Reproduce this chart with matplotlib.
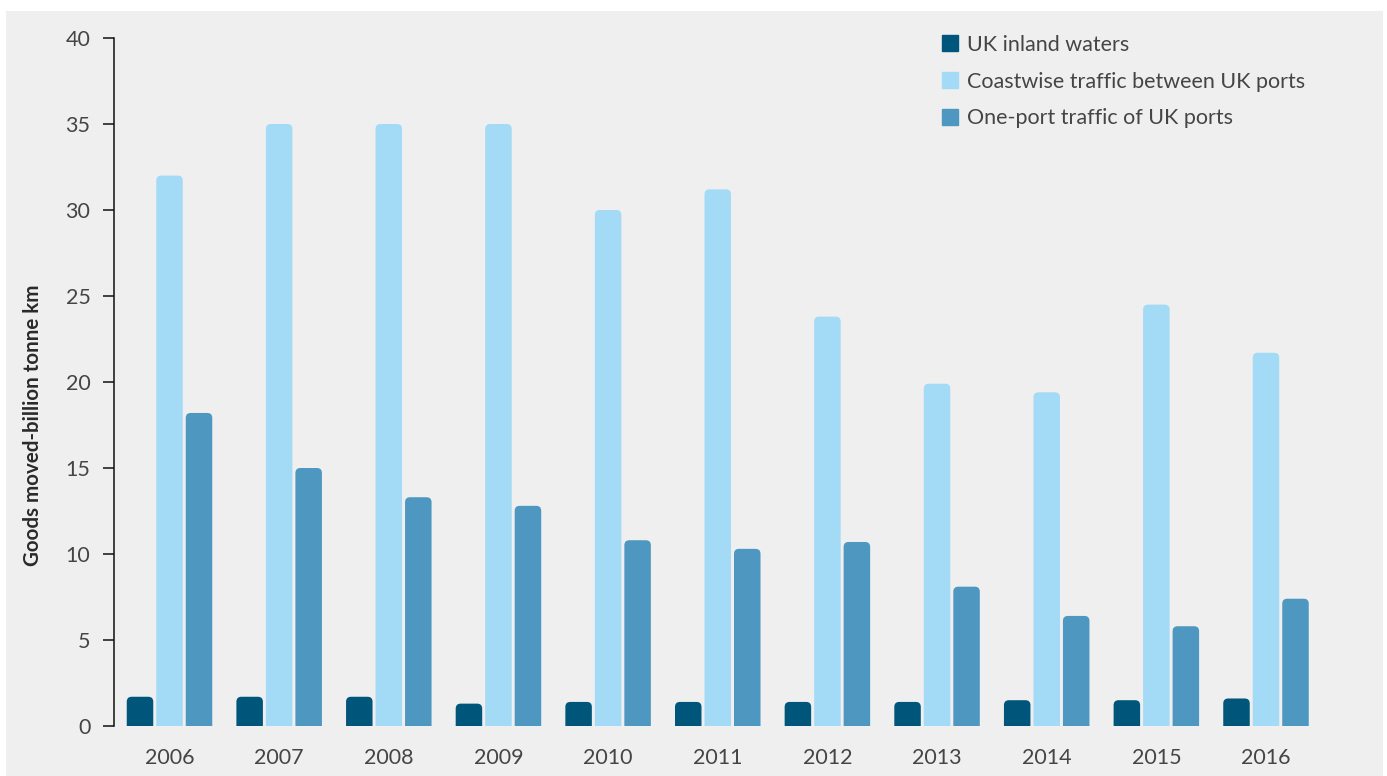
import matplotlib
matplotlib.use("Agg")
import matplotlib.pyplot as plt
from matplotlib.path import Path
from matplotlib.patches import PathPatch, Rectangle
from matplotlib.lines import Line2D

years = ["2006", "2007", "2008", "2009", "2010", "2011",
         "2012", "2013", "2014", "2015", "2016"]
inland = [1.7, 1.7, 1.7, 1.3, 1.4, 1.4, 1.4, 1.4, 1.5, 1.5, 1.6]
coastwise = [32.0, 35.0, 35.0, 35.0, 30.0, 31.2, 23.8, 19.9, 19.4, 24.5, 21.7]
one_port = [18.2, 15.0, 13.3, 12.8, 10.8, 10.3, 10.7, 8.1, 6.4, 5.8, 7.4]
series_names = ["UK inland waters", "Coastwise traffic between UK ports",
                "One-port traffic of UK ports"]
yticks = [0, 5, 10, 15, 20, 25, 30, 35, 40]

colors = ["#00557a", "#a3daf6", "#4d97c0"]
text_color = "#454545"
bg = "#efefef"

W, H, DPI = 1387, 776, 100
plt.rcParams["font.family"] = ["Lato", "DejaVu Sans"]

fig = plt.figure(figsize=(W / DPI, H / DPI), dpi=DPI, facecolor="white")
# grey panel behind the chart
fig.patches.append(Rectangle((6 / W, 0), (1383 - 6) / W, 1 - 11 / H,
                             transform=fig.transFigure, facecolor=bg,
                             edgecolor="none", zorder=-10))

left_px, right_px, top_px, bottom_px = 114, 1340, 38, 726
ax = fig.add_axes([left_px / W, 1 - bottom_px / H,
                   (right_px - left_px) / W, (bottom_px - top_px) / H])
ax.set_facecolor("none")

step_px = 109.65
center0_px = 169.5
x_lo = (left_px - center0_px) / step_px
x_hi = (right_px - center0_px) / step_px
ax.set_xlim(x_lo, x_hi)
ax.set_ylim(0, 40)

bar_w = 26.5 / step_px
offset = 29.5 / step_px
px_per_x = (right_px - left_px) / (x_hi - x_lo)
px_per_y = (bottom_px - top_px) / 40.0
radius_px = 5.0
rx = radius_px / px_per_x
ry = radius_px / px_per_y


def rounded_bar(x0, w, h, color):
    r_y = min(ry, h)
    x1 = x0 + w
    verts = [(x0, 0), (x0, h - r_y), (x0, h), (x0 + rx, h),
             (x1 - rx, h), (x1, h), (x1, h - r_y), (x1, 0), (x0, 0)]
    codes = [Path.MOVETO, Path.LINETO, Path.CURVE3, Path.CURVE3,
             Path.LINETO, Path.CURVE3, Path.CURVE3, Path.LINETO,
             Path.CLOSEPOLY]
    ax.add_patch(PathPatch(Path(verts, codes), facecolor=color,
                           edgecolor="none", zorder=3))


for k, vals in enumerate([inland, coastwise, one_port]):
    for i, v in enumerate(vals):
        xc = i + (k - 1) * offset
        rounded_bar(xc - bar_w / 2, bar_w, v, colors[k])

for s in ["top", "right", "bottom"]:
    ax.spines[s].set_visible(False)
ax.spines["left"].set_color("#111111")
ax.spines["left"].set_linewidth(1.1)

ax.set_yticks(yticks)
ax.set_yticklabels([str(t) for t in yticks])
ax.tick_params(axis="y", length=8, width=1.1, color="#111111", pad=9,
               labelsize=15.5, labelcolor=text_color)
ax.set_xticks(range(len(years)))
ax.set_xticklabels(years)
ax.tick_params(axis="x", length=0, pad=16, labelsize=15.5,
               labelcolor=text_color)

fig.text(33 / W, 1 - 425 / H, "Goods moved-billion tonne km", rotation=90,
         ha="center", va="center", fontsize=14.8, fontweight="bold",
         color="#2a2a2a")

handles = [Line2D([], [], linestyle="none", marker="s", markersize=11,
                  markerfacecolor=c, markeredgecolor=c) for c in colors]
fig.legend(handles, series_names, loc="upper left",
           bbox_to_anchor=(941 / W, 1 - 35 / H), frameon=False,
           fontsize=15.5, labelcolor=text_color, handlelength=0.8,
           handletextpad=0.42, labelspacing=0.77, borderaxespad=0,
           borderpad=0)

fig.savefig("out.png", dpi=DPI, facecolor="white")
